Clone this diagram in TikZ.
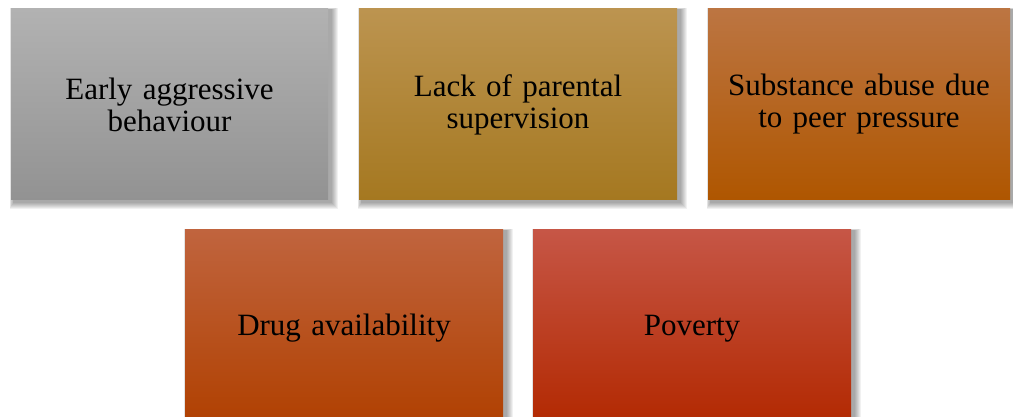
\documentclass[tikz,border=0pt]{standalone}
\usepackage{fontspec}
\setmainfont{Liberation Serif}
\usetikzlibrary{calc,backgrounds}
\definecolor{cAt}{HTML}{B2B2B2}\definecolor{cAb}{HTML}{929292}
\definecolor{cBt}{HTML}{BC9450}\definecolor{cBb}{HTML}{A57820}
\definecolor{cCt}{HTML}{BC7542}\definecolor{cCb}{HTML}{AF5600}
\definecolor{cDt}{HTML}{C0643E}\definecolor{cDb}{HTML}{B04000}
\definecolor{cEt}{HTML}{C65646}\definecolor{cEb}{HTML}{B22800}
\tikzset{
  card/.style={rectangle, inner sep=0pt, align=center, text width=#1,
    font=\fontsize{31}{32}\selectfont, text=black, minimum height=191pt, minimum width=#1},
}
\newcommand{\cardshadow}[1]{%
  \foreach \k in {1,...,7}{
    \fill[black, opacity=0.055]
      ($(#1.south west)+(3-\k*0.6,-2-\k*1.0)$) rectangle ($(#1.north east)+(3+\k*0.9,-1+\k*0.3)$);
  }}
\begin{document}
\begin{tikzpicture}[x=1pt,y=1pt]
\useasboundingbox (0,0) rectangle (1013,417);
\node[card=317pt, top color=cAt, bottom color=cAb] (a) at (169.5,312.5) {Early aggressive\\behaviour};
\node[card=318pt, top color=cBt, bottom color=cBb] (b) at (518,312.5) {Lack of parental\\supervision};
\node[card=302pt, top color=cCt, bottom color=cCb] (c) at (859,312.5) {Substance abuse due\\to peer pressure};
\node[card=318pt, minimum height=197pt, top color=cDt, bottom color=cDb] (d) at (344,88.5) {Drug availability};
\node[card=318pt, minimum height=197pt, top color=cEt, bottom color=cEb] (e) at (692,88.5) {Poverty};
\begin{pgfonlayer}{background}
\fill[white] (0,0) rectangle (1013,417);
\cardshadow{a}\cardshadow{b}\cardshadow{c}\cardshadow{d}\cardshadow{e}
\end{pgfonlayer}
\end{tikzpicture}
\end{document}
